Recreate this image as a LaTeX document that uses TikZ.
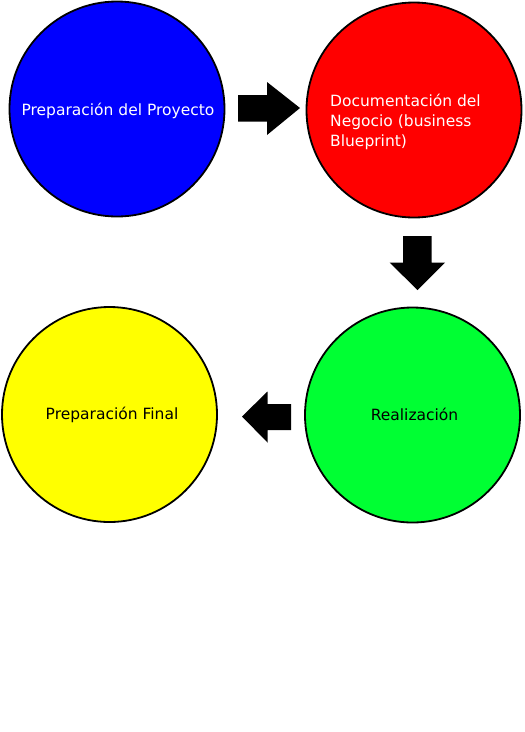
\documentclass[tikz,border=0pt]{standalone}
\usepackage{fontspec}
\setmainfont{DejaVu Sans}
\definecolor{cblue}{RGB}{0,0,255}
\definecolor{cred}{RGB}{255,0,0}
\definecolor{cgreen}{RGB}{0,255,51}
\definecolor{cyellow}{RGB}{255,255,0}
\begin{document}
\begin{tikzpicture}[x=1pt,y=-1pt,
  phase/.style={circle,draw=black,line width=1.8pt,minimum size=215pt,inner sep=0pt},
  lbl/.style={font=\fontsize{15.5}{20}\selectfont,inner sep=0pt,anchor=base},
  blockarrow/.style={fill=black,draw=none}]
\useasboundingbox (0,0) rectangle (525,732);
\node[phase,fill=cblue]   (prep)  at (117,109) {};
\node[phase,fill=cred]    (doc)   at (414,110) {};
\node[phase,fill=cgreen]  (real)  at (412.5,415) {};
\node[phase,fill=cyellow] (final) at (109.5,414.5) {};
\node[lbl,text=white] (tprep) at (118,115) {Preparación del Proyecto};
\node[lbl,text=white,anchor=base west,align=left] (tdoc) at (330,146) {Documentación del\\Negocio (business\\Blueprint)};
\node[lbl,text=black] (treal) at (414.5,420) {Realización};
\node[lbl,text=black] (tfinal) at (112,419) {Preparación Final};
% block arrows
\fill[blockarrow] (238,95) -- (267,95) -- (267,82) -- (300,108) -- (267,135) -- (267,121.5) -- (238,121.5) -- cycle;
\fill[blockarrow] (403,236) -- (431.5,236) -- (431.5,262.5) -- (445,262.5) -- (417.5,290) -- (389.5,262.5) -- (403,262.5) -- cycle;
\fill[blockarrow] (291,404) -- (291,430) -- (267.5,430) -- (267.5,442.5) -- (242,416.5) -- (267.5,391.5) -- (267.5,404) -- cycle;
\end{tikzpicture}
\end{document}
